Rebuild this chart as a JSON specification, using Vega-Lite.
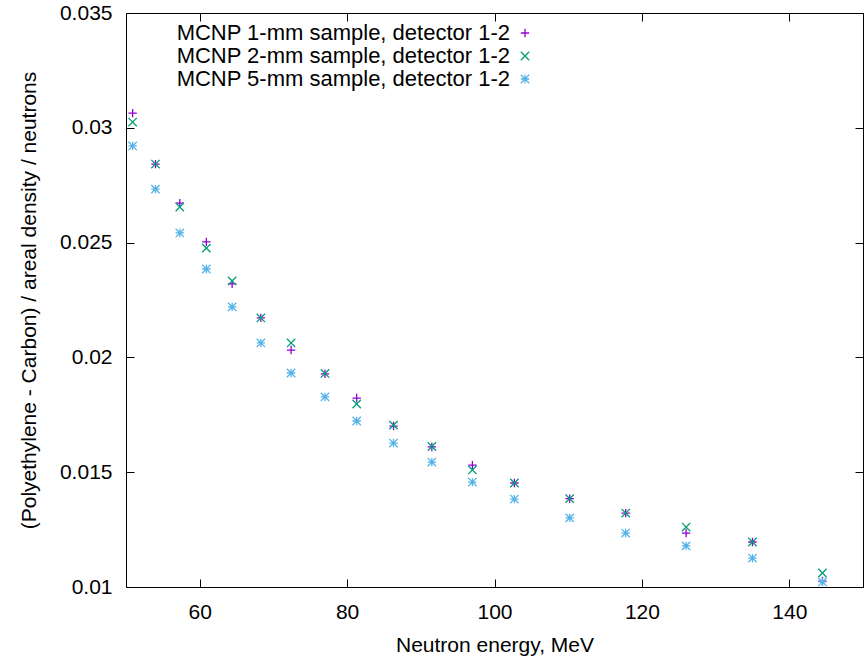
{
  "$schema": "https://vega.github.io/schema/vega-lite/v6.json",
  "width": 737,
  "height": 574,
  "autosize": {"type": "none"},
  "padding": {"left": 126, "top": 13, "right": 2, "bottom": 72},
  "config": {
    "font": "Liberation Sans",
    "view": {"stroke": null},
    "axis": {
      "grid": false,
      "domainColor": "#000000",
      "domainWidth": 1,
      "tickColor": "#000000",
      "tickWidth": 1,
      "labelColor": "#000000",
      "titleColor": "#000000",
      "labelFontSize": 21,
      "titleFontSize": 21,
      "titleFontWeight": "normal",
      "labelFont": "Liberation Sans",
      "titleFont": "Liberation Sans"
    }
  },
  "data": {
    "values": [
      {"E": 50.9, "v": 0.03064, "s": "MCNP 1-mm sample, detector 1-2"},
      {"E": 54.0, "v": 0.02842, "s": "MCNP 1-mm sample, detector 1-2"},
      {"E": 57.3, "v": 0.02672, "s": "MCNP 1-mm sample, detector 1-2"},
      {"E": 60.9, "v": 0.02503, "s": "MCNP 1-mm sample, detector 1-2"},
      {"E": 64.4, "v": 0.02320, "s": "MCNP 1-mm sample, detector 1-2"},
      {"E": 68.3, "v": 0.02172, "s": "MCNP 1-mm sample, detector 1-2"},
      {"E": 72.4, "v": 0.02032, "s": "MCNP 1-mm sample, detector 1-2"},
      {"E": 77.0, "v": 0.01928, "s": "MCNP 1-mm sample, detector 1-2"},
      {"E": 81.3, "v": 0.01823, "s": "MCNP 1-mm sample, detector 1-2"},
      {"E": 86.3, "v": 0.01701, "s": "MCNP 1-mm sample, detector 1-2"},
      {"E": 91.5, "v": 0.01610, "s": "MCNP 1-mm sample, detector 1-2"},
      {"E": 97.0, "v": 0.01531, "s": "MCNP 1-mm sample, detector 1-2"},
      {"E": 102.7, "v": 0.01453, "s": "MCNP 1-mm sample, detector 1-2"},
      {"E": 110.2, "v": 0.01385, "s": "MCNP 1-mm sample, detector 1-2"},
      {"E": 117.8, "v": 0.01322, "s": "MCNP 1-mm sample, detector 1-2"},
      {"E": 126.0, "v": 0.01235, "s": "MCNP 1-mm sample, detector 1-2"},
      {"E": 135.0, "v": 0.01196, "s": "MCNP 1-mm sample, detector 1-2"},
      {"E": 144.5, "v": 0.01026, "s": "MCNP 1-mm sample, detector 1-2"},
      {"E": 50.9, "v": 0.03025, "s": "MCNP 2-mm sample, detector 1-2"},
      {"E": 54.0, "v": 0.02842, "s": "MCNP 2-mm sample, detector 1-2"},
      {"E": 57.3, "v": 0.02655, "s": "MCNP 2-mm sample, detector 1-2"},
      {"E": 60.9, "v": 0.02476, "s": "MCNP 2-mm sample, detector 1-2"},
      {"E": 64.4, "v": 0.02333, "s": "MCNP 2-mm sample, detector 1-2"},
      {"E": 68.3, "v": 0.02172, "s": "MCNP 2-mm sample, detector 1-2"},
      {"E": 72.4, "v": 0.02063, "s": "MCNP 2-mm sample, detector 1-2"},
      {"E": 77.0, "v": 0.01930, "s": "MCNP 2-mm sample, detector 1-2"},
      {"E": 81.3, "v": 0.01797, "s": "MCNP 2-mm sample, detector 1-2"},
      {"E": 86.3, "v": 0.01705, "s": "MCNP 2-mm sample, detector 1-2"},
      {"E": 91.5, "v": 0.01612, "s": "MCNP 2-mm sample, detector 1-2"},
      {"E": 97.0, "v": 0.01510, "s": "MCNP 2-mm sample, detector 1-2"},
      {"E": 102.7, "v": 0.01453, "s": "MCNP 2-mm sample, detector 1-2"},
      {"E": 110.2, "v": 0.01385, "s": "MCNP 2-mm sample, detector 1-2"},
      {"E": 117.8, "v": 0.01322, "s": "MCNP 2-mm sample, detector 1-2"},
      {"E": 126.0, "v": 0.01261, "s": "MCNP 2-mm sample, detector 1-2"},
      {"E": 135.0, "v": 0.01196, "s": "MCNP 2-mm sample, detector 1-2"},
      {"E": 144.5, "v": 0.01061, "s": "MCNP 2-mm sample, detector 1-2"},
      {"E": 50.9, "v": 0.02921, "s": "MCNP 5-mm sample, detector 1-2"},
      {"E": 54.0, "v": 0.02733, "s": "MCNP 5-mm sample, detector 1-2"},
      {"E": 57.3, "v": 0.02542, "s": "MCNP 5-mm sample, detector 1-2"},
      {"E": 60.9, "v": 0.02385, "s": "MCNP 5-mm sample, detector 1-2"},
      {"E": 64.4, "v": 0.02220, "s": "MCNP 5-mm sample, detector 1-2"},
      {"E": 68.3, "v": 0.02063, "s": "MCNP 5-mm sample, detector 1-2"},
      {"E": 72.4, "v": 0.01932, "s": "MCNP 5-mm sample, detector 1-2"},
      {"E": 77.0, "v": 0.01828, "s": "MCNP 5-mm sample, detector 1-2"},
      {"E": 81.3, "v": 0.01723, "s": "MCNP 5-mm sample, detector 1-2"},
      {"E": 86.3, "v": 0.01627, "s": "MCNP 5-mm sample, detector 1-2"},
      {"E": 91.5, "v": 0.01544, "s": "MCNP 5-mm sample, detector 1-2"},
      {"E": 97.0, "v": 0.01457, "s": "MCNP 5-mm sample, detector 1-2"},
      {"E": 102.7, "v": 0.01383, "s": "MCNP 5-mm sample, detector 1-2"},
      {"E": 110.2, "v": 0.01301, "s": "MCNP 5-mm sample, detector 1-2"},
      {"E": 117.8, "v": 0.01235, "s": "MCNP 5-mm sample, detector 1-2"},
      {"E": 126.0, "v": 0.01179, "s": "MCNP 5-mm sample, detector 1-2"},
      {"E": 135.0, "v": 0.01126, "s": "MCNP 5-mm sample, detector 1-2"},
      {"E": 144.5, "v": 0.01022, "s": "MCNP 5-mm sample, detector 1-2"}
    ]
  },
  "layer": [
    {
      "mark": {"type": "point", "filled": false, "strokeWidth": 1.3, "size": 70, "opacity": 1},
      "encoding": {
        "x": {
          "field": "E", "type": "quantitative",
          "scale": {"domain": [50, 150], "nice": false, "zero": false},
          "axis": {"orient": "bottom", "values": [60, 80, 100, 120, 140], "tickSize": -8, "labelPadding": 22, "title": "Neutron energy, MeV", "titlePadding": 12}
        },
        "y": {
          "field": "v", "type": "quantitative",
          "scale": {"domain": [0.01, 0.035], "nice": false, "zero": false},
          "axis": {"orient": "left", "values": [0.01, 0.015, 0.02, 0.025, 0.03, 0.035], "format": ".3~f", "tickSize": -8, "labelPadding": 22, "title": "(Polyethylene - Carbon) / areal density / neutrons", "titlePadding": 20}
        },
        "color": {
          "field": "s", "type": "nominal",
          "scale": {"domain": ["MCNP 1-mm sample, detector 1-2", "MCNP 2-mm sample, detector 1-2", "MCNP 5-mm sample, detector 1-2"], "range": ["#9400D3", "#009E73", "#56B4E9"]},
          "legend": {"title": null, "orient": "none", "legendX": 388, "legendY": 9, "labelAlign": "right", "labelOffset": -26, "labelFontSize": 22, "labelColor": "#000000", "labelLimit": 0, "symbolSize": 70, "symbolStrokeWidth": 1.3, "rowPadding": 1, "padding": 0}
        },
        "shape": {
          "field": "s", "type": "nominal",
          "scale": {"domain": ["MCNP 1-mm sample, detector 1-2", "MCNP 2-mm sample, detector 1-2", "MCNP 5-mm sample, detector 1-2"], "range": ["M-1,0L1,0M0,-1L0,1", "M-1,-1L1,1M-1,1L1,-1", "M-1,0L1,0M0,-1L0,1M-1,-1L1,1M-1,1L1,-1"]},
          "legend": {"title": null, "orient": "none", "legendX": 388, "legendY": 9, "labelAlign": "right", "labelOffset": -26, "labelFontSize": 22, "labelColor": "#000000", "labelLimit": 0, "symbolSize": 70, "symbolStrokeWidth": 1.3, "rowPadding": 1, "padding": 0}
        }
      }
    },
    {
      "mark": {"type": "point", "opacity": 0},
      "encoding": {
        "x": {
          "field": "E", "type": "quantitative",
          "scale": {"domain": [50, 150], "nice": false, "zero": false},
          "axis": {"orient": "top", "values": [60, 80, 100, 120, 140], "tickSize": -8, "labels": false, "title": null}
        },
        "y": {
          "field": "v", "type": "quantitative",
          "scale": {"domain": [0.01, 0.035], "nice": false, "zero": false},
          "axis": {"orient": "right", "values": [0.01, 0.015, 0.02, 0.025, 0.03, 0.035], "tickSize": -8, "labels": false, "title": null}
        }
      }
    }
  ],
  "resolve": {"axis": {"x": "independent", "y": "independent"}}
}
